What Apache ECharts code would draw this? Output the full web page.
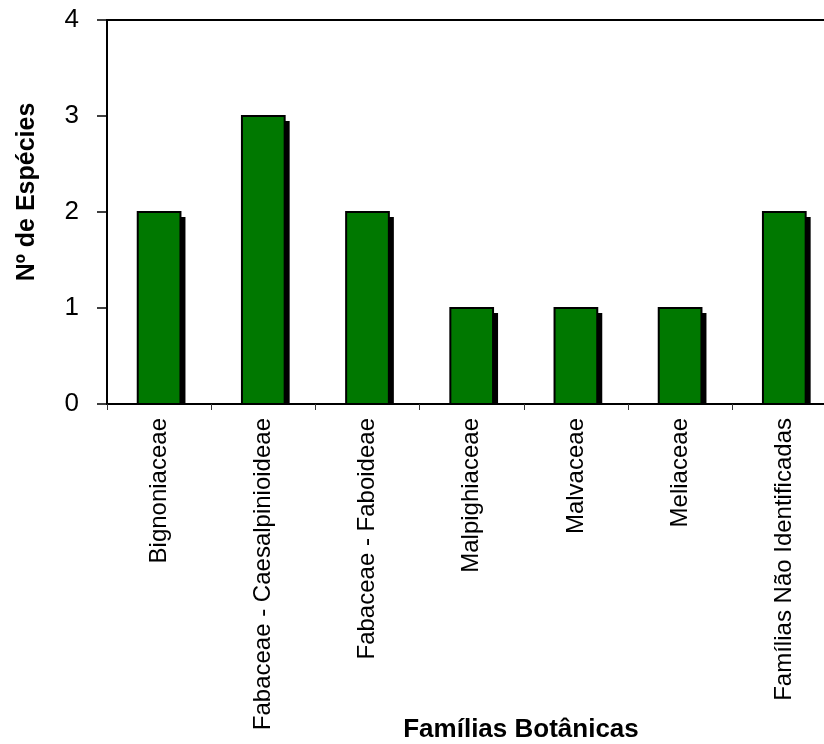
<!DOCTYPE html>
<html>
<head>
<meta charset="utf-8">
<title>Famílias Botânicas</title>
<script src="https://cdn.jsdelivr.net/npm/echarts@6/dist/echarts.min.js"></script>
<style>
  html, body { margin: 0; padding: 0; background: #ffffff; overflow: hidden; width: 824px; height: 744px; }
  /* the plot frame runs past the right edge of the page */
  #chart { width: 860px; height: 744px; }
</style>
</head>
<body>
<div id="chart"></div>
<script>
// Botanical families and number of species per family
const categories = [
  'Bignoniaceae',
  'Fabaceae - Caesalpinioideae',
  'Fabaceae - Faboideae',
  'Malpighiaceae',
  'Malvaceae',
  'Meliaceae',
  'Famílias Não Identificadas'
];
const species = [2, 3, 2, 1, 1, 1, 2];
const yMin = 0;
const yMax = 4;
const yStep = 1;

const FONT = '"Liberation Sans", Arial, sans-serif';

const chart = echarts.init(document.getElementById('chart'), null, { renderer: 'canvas' });

// Bars with a solid black drop shadow that stops at the baseline
function renderBar(params, api) {
  const cat = api.value(0);
  const val = api.value(1);
  const top = api.coord([cat, val]);
  const base = api.coord([cat, 0]);
  const band = api.size([1, 0])[0];
  const w = band * 0.41;
  const x = top[0] - w / 2;
  const h = base[1] - top[1];
  return {
    type: 'group',
    children: [
      {
        type: 'rect',
        shape: { x: x + 5, y: top[1] + 5, width: w, height: h - 5 },
        style: { fill: '#000000' }
      },
      {
        type: 'rect',
        shape: { x: x, y: top[1], width: w, height: h },
        style: { fill: '#007800', stroke: '#000000', lineWidth: 2 }
      }
    ]
  };
}

chart.setOption({
  animation: false,
  backgroundColor: '#ffffff',
  grid: {
    left: 107,
    top: 20,
    width: 729.4,
    height: 384,
    show: true,
    borderColor: '#000000',
    borderWidth: 2,
    backgroundColor: 'transparent'
  },
  xAxis: {
    type: 'category',
    data: categories,
    boundaryGap: true,
    axisLine: { show: true, lineStyle: { color: '#000000', width: 2 } },
    axisTick: { show: true, length: 6, lineStyle: { color: '#333333', width: 1 } },
    axisLabel: {
      rotate: 90,
      interval: 0,
      margin: 14,
      color: '#000000',
      fontSize: 24,
      fontFamily: FONT
    },
    splitLine: { show: false }
  },
  yAxis: {
    type: 'value',
    min: yMin,
    max: yMax,
    interval: yStep,
    axisLine: { show: true, lineStyle: { color: '#000000', width: 2 } },
    axisTick: { show: true, length: 10, lineStyle: { color: '#000000', width: 1.5 } },
    axisLabel: {
      margin: 28,
      color: '#000000',
      fontSize: 26,
      fontFamily: FONT
    },
    splitLine: { show: false }
  },
  graphic: [
    {
      type: 'text',
      x: 27,
      y: 192,
      rotation: Math.PI / 2,
      style: {
        text: 'Nº de Espécies',
        font: 'bold 25px ' + FONT,
        fill: '#000000',
        textAlign: 'center',
        textVerticalAlign: 'middle'
      }
    },
    {
      type: 'text',
      x: 521,
      y: 730,
      style: {
        text: 'Famílias Botânicas',
        font: 'bold 26px ' + FONT,
        fill: '#000000',
        textAlign: 'center',
        textVerticalAlign: 'middle'
      }
    }
  ],
  series: [
    {
      type: 'custom',
      renderItem: renderBar,
      encode: { x: 0, y: 1 },
      data: categories.map((c, i) => [i, species[i]])
    }
  ]
});
</script>
</body>
</html>
